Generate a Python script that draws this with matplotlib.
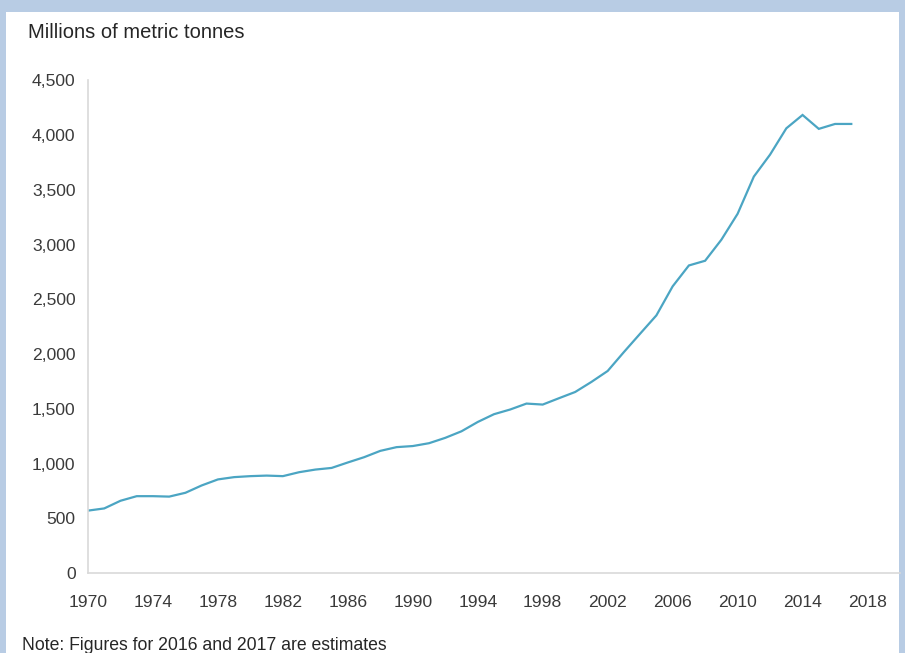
import matplotlib.pyplot as plt
from matplotlib.patches import Rectangle
from matplotlib.ticker import FuncFormatter

# Values (millions of metric tonnes)
years = list(range(1970, 2018))
tonnes = [570, 590, 660, 702, 702, 698, 733, 800, 855, 876,
          885, 890, 885, 921, 945, 960, 1010, 1058, 1116, 1150,
          1160, 1186, 1235, 1295, 1380, 1451, 1494, 1548, 1539, 1597,
          1654, 1746, 1846, 2019, 2187, 2354, 2619, 2810, 2853, 3045,
          3282, 3622, 3823, 4063, 4185, 4058, 4103, 4103]

x_ticks = list(range(1970, 2019, 4))
y_ticks = list(range(0, 4501, 500))

plt.rcParams['font.family'] = ['Liberation Sans', 'DejaVu Sans']

fig = plt.figure(figsize=(9.05, 6.53), dpi=100)
fig.patch.set_facecolor('#b8cce4')
# white panel inside the light blue frame
fig.patches.append(Rectangle((6 / 905, 0), 893 / 905, 641 / 653,
                             transform=fig.transFigure, facecolor='white',
                             edgecolor='none', zorder=-1))

ax = fig.add_axes([88 / 905, 80 / 653, 812 / 905, 492.5 / 653])
ax.set_zorder(2)
ax.set_facecolor('none')
ax.plot(years, tonnes, color='#4ba5c3', linewidth=1.6, solid_joinstyle='miter')

ax.set_xlim(1970, 2020)
ax.set_ylim(0, 4500)
ax.set_xticks(x_ticks)
ax.set_yticks(y_ticks)
ax.yaxis.set_major_formatter(FuncFormatter(lambda v, p: f'{int(v):,}'))
ax.tick_params(axis='both', length=0, labelsize=12.6, labelcolor='#3a3a3a')
ax.tick_params(axis='y', pad=9)
ax.tick_params(axis='x', pad=16)

for side in ['top', 'right']:
    ax.spines[side].set_visible(False)
for side in ['left', 'bottom']:
    ax.spines[side].set_color('#d9d9d9')
    ax.spines[side].set_linewidth(1.2)

fig.text(28 / 905, 1 - 33 / 653, 'Millions of metric tonnes', fontsize=14.5,
         color='#262626', va='center', ha='left')
fig.text(22 / 905, 1 - 645 / 653, 'Note: Figures for 2016 and 2017 are estimates',
         fontsize=12.7, color='#262626', va='center', ha='left')

fig.savefig('out.png', dpi=100, facecolor=fig.get_facecolor())
